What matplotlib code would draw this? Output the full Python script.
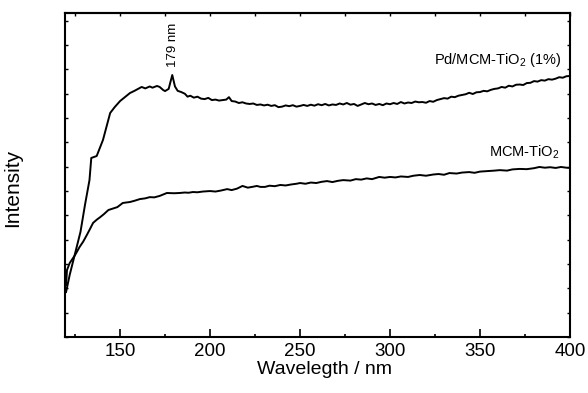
import numpy as np
import matplotlib
matplotlib.use("Agg")
import matplotlib.pyplot as plt
from matplotlib.ticker import MultipleLocator

plt.rcParams['font.family'] = ['Liberation Sans', 'DejaVu Sans']
plt.rcParams['mathtext.default'] = 'regular'

# Pd/MCM-TiO2 (1%) spectrum
wl_pd = [120, 122, 125.5, 128, 130.5, 133, 134, 135.5, 137, 140.5, 144.5, 147, 150, 152,
         155.5, 158, 160, 162, 164, 166.5, 168, 170.5, 172, 174, 175, 177, 179, 180.5, 182,
         184, 186, 187.5, 189, 191, 193, 195, 197, 199, 201, 203, 205, 207, 209, 210.5, 212,
         214, 216, 218, 220, 222, 224, 226, 228, 230, 232, 234, 236, 238, 240, 242, 244, 246,
         248, 250, 252, 254, 256, 258, 260, 262, 264, 266, 268, 270, 272, 274, 276, 278, 280,
         282, 284, 286, 288, 290, 292, 294, 296, 298, 300, 302, 304, 306, 308, 310, 312, 314,
         316, 318, 320, 322, 324, 326, 328, 330, 332, 334, 336, 338, 340, 342, 344, 346, 348,
         350, 352, 354, 356, 358, 360, 362, 364, 366, 368, 370, 372, 374, 376, 378, 380, 382,
         384, 386, 388, 390, 392, 394, 396, 398, 400]
int_pd = [1.85, 2.55, 3.58, 4.32, 5.43, 6.45, 7.36, 7.40, 7.44, 8.10, 9.21, 9.45, 9.70, 9.82,
          10.03, 10.12, 10.20, 10.28, 10.22, 10.30, 10.25, 10.32, 10.28, 10.15, 10.11, 10.20,
          10.77, 10.30, 10.12, 10.07, 10.00, 9.88, 9.92, 9.84, 9.88, 9.80, 9.78, 9.83, 9.74,
          9.76, 9.72, 9.74, 9.76, 9.86, 9.70, 9.68, 9.62, 9.65, 9.60, 9.58, 9.60, 9.54, 9.56,
          9.52, 9.55, 9.50, 9.53, 9.45, 9.47, 9.52, 9.49, 9.53, 9.47, 9.50, 9.54, 9.50, 9.55,
          9.51, 9.57, 9.53, 9.58, 9.52, 9.56, 9.54, 9.60, 9.56, 9.62, 9.55, 9.58, 9.50, 9.56,
          9.62, 9.57, 9.60, 9.54, 9.58, 9.53, 9.60, 9.57, 9.62, 9.58, 9.66, 9.60, 9.64, 9.62,
          9.68, 9.65, 9.66, 9.63, 9.70, 9.67, 9.74, 9.78, 9.82, 9.80, 9.88, 9.86, 9.92, 9.95,
          9.98, 10.04, 9.99, 10.06, 10.07, 10.12, 10.10, 10.16, 10.20, 10.22, 10.28, 10.25,
          10.33, 10.30, 10.37, 10.38, 10.36, 10.44, 10.45, 10.52, 10.50, 10.56, 10.54, 10.60,
          10.58, 10.62, 10.68, 10.66, 10.72, 10.73]

# MCM-TiO2 spectrum
wl_mcm = [120, 120.5, 122, 125, 127.5, 129.5, 131.5, 133, 135, 137, 139, 141, 143.5, 146,
          148.5, 151.5, 153.5, 155.5, 158, 161, 164, 166.5, 169, 172, 174, 176, 180, 183,
          186, 188, 190.5, 193, 196, 200, 203, 206, 209.5, 212, 215, 218, 221, 224, 226,
          228, 230.5, 233, 236, 239, 242, 245, 248, 250, 253, 256, 259, 262, 265, 268, 271,
          274, 278, 281, 284, 287, 290, 294, 297, 300, 303, 306, 310, 313, 316.5, 320, 324,
          327, 330, 333, 337, 340, 344, 347, 350, 354, 358, 361, 365, 368, 372, 376, 380,
          383, 386, 389, 392, 395, 398, 400]
int_mcm = [2.14, 2.75, 3.04, 3.37, 3.70, 3.92, 4.19, 4.40, 4.69, 4.82, 4.93, 5.05, 5.22,
           5.28, 5.34, 5.51, 5.53, 5.55, 5.60, 5.67, 5.70, 5.75, 5.74, 5.80, 5.86, 5.92,
           5.91, 5.92, 5.94, 5.93, 5.96, 5.95, 5.98, 6.00, 5.98, 6.02, 6.08, 6.04, 6.10,
           6.21, 6.14, 6.18, 6.21, 6.17, 6.17, 6.22, 6.20, 6.25, 6.23, 6.27, 6.30, 6.33,
           6.30, 6.35, 6.33, 6.38, 6.41, 6.37, 6.42, 6.45, 6.43, 6.49, 6.47, 6.52, 6.49,
           6.58, 6.55, 6.58, 6.56, 6.60, 6.58, 6.63, 6.66, 6.63, 6.68, 6.70, 6.67, 6.74,
           6.72, 6.76, 6.78, 6.75, 6.80, 6.82, 6.84, 6.86, 6.84, 6.89, 6.91, 6.90, 6.94,
           6.99, 6.96, 6.98, 6.95, 6.99, 6.96, 6.95]

fig = plt.figure(figsize=(5.88, 3.93), dpi=100)
ax = fig.add_axes([65 / 588, 56 / 393, 505 / 588, 324 / 393])

ax.plot(wl_pd, int_pd, color='black', lw=1.4)
ax.plot(wl_mcm, int_mcm, color='black', lw=1.4)

ax.set_xlim(119.4, 400)
ax.set_ylim(0, 13.32)

ax.xaxis.set_major_locator(MultipleLocator(50))
ax.xaxis.set_minor_locator(MultipleLocator(25))
ax.yaxis.set_major_locator(MultipleLocator(1))
ax.set_yticklabels([])
ax.tick_params(axis='x', which='major', direction='in', length=6, width=1.2,
               labelsize=13.5, pad=4, top=False)
ax.tick_params(axis='x', which='minor', direction='in', length=2.5, width=1.2, top=False)
ax.tick_params(axis='y', which='major', direction='in', length=2.5, width=1.0,
               left=True, right=True)

top = ax.secondary_xaxis('top')
top.xaxis.set_major_locator(MultipleLocator(25))
top.tick_params(direction='in', length=2.5, width=1.0, labeltop=False)

for sp in ax.spines.values():
    sp.set_linewidth(1.5)
for sp in top.spines.values():
    sp.set_linewidth(1.5)

ax.set_xlabel('Wavelegth / nm', fontsize=14)
ax.xaxis.set_label_coords(0.513, -0.075)
ax.set_ylabel('Intensity', fontsize=15)
ax.yaxis.set_label_coords(-0.085, 0.46)

ax.text(179.4, 11.1, '179 nm', rotation=90, ha='center', va='bottom', fontsize=9.5)
ax.text(395.5, 11.22, 'Pd/MCM-TiO$_2$ (1%)', ha='right', va='baseline', fontsize=10.5)
ax.text(394.4, 7.40, 'MCM-TiO$_2$', ha='right', va='baseline', fontsize=10.5)

fig.savefig('out.png', dpi=100)
